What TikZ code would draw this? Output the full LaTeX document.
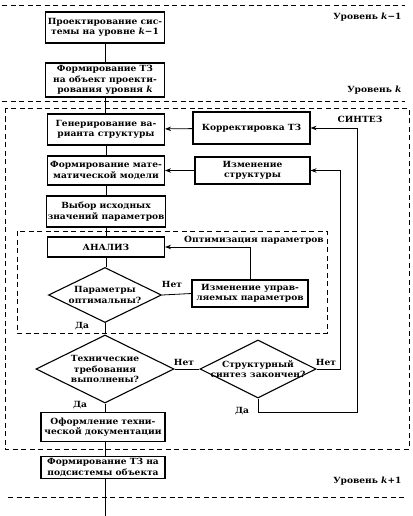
\documentclass[tikz,border=0pt]{standalone}
\usepackage{fontspec}
\setmainfont{DejaVu Serif}[FakeStretch=1.07]
\usepackage{tikz}
\usetikzlibrary{shapes.geometric, arrows.meta, positioning, calc}

\tikzset{
  blok/.style={draw, line width=1.1pt, rectangle, align=center, inner sep=1pt},
  romb/.style={draw, line width=1.1pt, diamond, align=center, inner sep=0pt, aspect=2},
  ramka/.style={line width=0.8pt, dash pattern=on 5pt off 3.5pt},
  arr/.style={-{Stealth[length=6pt,width=4.5pt]}, line width=0.8pt},
  lin/.style={line width=0.8pt},
  metka/.style={font=\fontsize{8.5}{10}\selectfont\bfseries},
}

\begin{document}
\begin{tikzpicture}[x=1pt, y=-1pt, font=\fontsize{8.5}{10.5}\selectfont\bfseries]
  \useasboundingbox (0,0) rectangle (412,516);

  % level boundaries
  \draw[ramka] (2,5) -- (405,5);
  \draw[ramka] (2,101) -- (405,101);
  \draw[ramka] (8,497) -- (405,497);
  \node[metka, anchor=east] (urk1) at (405,17) {Уровень \textit{k}−1};
  \node[metka, anchor=east] (urk) at (405,90) {Уровень \textit{k}};
  \node[metka, anchor=east] (urk2) at (405,481) {Уровень \textit{k}+1};

  % synthesis and optimisation frames
  \draw[ramka] (5,108) rectangle (409,449);
  \draw[ramka] (17,231) rectangle (327,333);
  \node[metka] (sintez) at (360,119) {СИНТЕЗ};
  \node[metka] (optim) at (254,240) {Оптимизация параметров};

  % main column
  \node[blok, minimum width=119, minimum height=31] (proekt) at (105,27.5) {Проектирование сис-\\темы на уровне \textit{k}−1};
  \node[blok, minimum width=119, minimum height=34] (formtz) at (105,80) {Формирование ТЗ\\на объект проекти-\\рования уровня \textit{k}};
  \node[blok, minimum width=117, minimum height=31] (gener) at (106,129.5) {Генерирование ва-\\рианта структуры};
  \node[blok, minimum width=117, minimum height=29] (matmod) at (106,170.5) {Формирование мате-\\матической модели};
  \node[blok, minimum width=117, minimum height=31] (vybor) at (106,211.5) {Выбор исходных\\значений параметров};
  \node[blok, minimum width=117, minimum height=20] (analiz) at (106,247) {АНАЛИЗ};
  \node[romb, minimum width=113, minimum height=55] (optq) at (105,295) {Параметры\\оптимальны?};
  \node[romb, minimum width=138, minimum height=68] (techq) at (105,369) {Технические\\требования\\выполнены?};
  \node[blok, minimum width=124, minimum height=29] (oform) at (103,427) {Оформление техни-\\ческой документации};
  \node[blok, minimum width=124, minimum height=22] (podsist) at (103,467.5) {Формирование ТЗ на\\подсистемы объекта};
  \coordinate (niz) at (105,516);

  % right column
  \node[blok, minimum width=117, minimum height=32] (korr) at (251.5,128) {Корректировка ТЗ};
  \node[blok, minimum width=115, minimum height=27] (izmstr) at (252.5,170.5) {Изменение\\структуры};
  \node[blok, minimum width=116, minimum height=27] (izmupr) at (250,293.5) {Изменение управ-\\ляемых параметров};
  \node[romb, inner sep=-4pt, minimum width=116, minimum height=58] (strq) at (258,369) {Структурный\\синтез закончен?};

  % vertical flow
  \draw[lin] (proekt) -- (formtz);
  \draw[lin] (formtz) -- (formtz.south |- gener.north);
  \draw[lin] (gener.south) -- (gener.south |- matmod.north);
  \draw[lin] (matmod.south) -- (matmod.south |- vybor.north);
  \draw[lin] (vybor.south) -- (vybor.south |- analiz.north);
  \draw[lin] (analiz.south) -- (analiz.south |- optq.north);
  \draw[lin] (optq.south) -- (techq.north);
  \draw[lin] (techq.south) -- (techq.south |- oform.north);
  \draw[lin] (oform.south -| techq.south) -- (techq.south |- podsist.north);
  \draw[lin] (podsist.south -| techq.south) -- (niz);

  % feedback loops
  \draw[arr] (korr) -- (gener);
  \draw[arr] (izmstr) -- (matmod);
  \draw[lin] (optq.east) -- (izmupr.west);
  \draw[arr] (izmupr.north) |- (analiz.east);
  \draw[lin] (techq.east) -- (strq.west);

  \coordinate (vA) at (340,0);
  \coordinate (vB) at (357,0);
  \coordinate (daS) at (258,412);
  \draw[arr] (strq.east) -- (strq.east -| vA) -- (izmstr.east -| vA) -- (izmstr.east);
  \draw[arr] (strq.south) -- (daS) -- (daS -| vB) -- (korr.east -| vB) -- (korr.east);

  % answers
  \node[metka] (net1) at (172,284) {Нет};
  \node[metka] (da1) at (82,326) {Да};
  \node[metka] (net2) at (184,362) {Нет};
  \node[metka] (da2) at (80,405) {Да};
  \node[metka] (net3) at (326,362) {Нет};
  \node[metka] (da3) at (242,411) {Да};
\end{tikzpicture}
\end{document}
